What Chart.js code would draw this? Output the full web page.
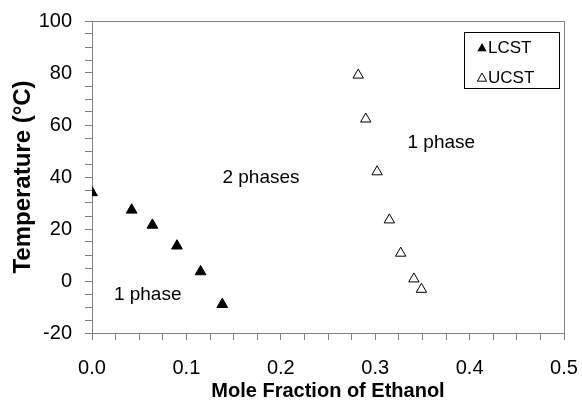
<!DOCTYPE html>
<html lang="en">
<head>
<meta charset="UTF-8">
<title>LCST / UCST vs mole fraction of ethanol</title>
<style>
  body { margin: 0; background: #fff; }
  .wrap { position: relative; width: 582px; height: 405px; }
</style>
</head>
<body>
<div class="wrap"><canvas id="c"></canvas></div>
<script src="https://cdn.jsdelivr.net/npm/chart.js@4.4.1/dist/chart.umd.min.js"></script>
<script>
// LCST points (filled) and UCST points (open)
const lcstX = [0.000, 0.042, 0.064, 0.090, 0.115, 0.138];
const lcstT = [34.0, 27.3, 21.5, 13.5, 3.6, -9.0];
const ucstX = [0.282, 0.290, 0.302, 0.315, 0.327, 0.341, 0.349];
const ucstT = [79.2, 62.3, 42.0, 23.5, 10.7, 0.8, -3.2];

// region labels, placed in data units
const regionText = ['2 phases', '1 phase', '1 phase'];
const regionX = [0.179, 0.059, 0.370];
const regionT = [39.6, -5.4, 53.3];

const seriesNames = ['LCST', 'UCST'];

const FONT = "'Liberation Sans', Arial, sans-serif";
const axisGray = '#808080';
Chart.defaults.font.family = FONT;
Chart.defaults.color = '#000';

// top/right frame, region labels and the boxed legend
const frameAndText = {
  id: 'frameAndText',
  afterDraw(chart) {
    const {ctx, chartArea: a, scales: {x, y}} = chart;
    ctx.save();
    ctx.strokeStyle = axisGray;
    ctx.lineWidth = 1;
    ctx.beginPath();
    ctx.moveTo(Math.round(a.left) + 0.5, Math.round(a.top) + 0.5);
    ctx.lineTo(Math.round(a.right) + 0.5, Math.round(a.top) + 0.5);
    ctx.lineTo(Math.round(a.right) + 0.5, Math.round(a.bottom) + 0.5);
    ctx.stroke();

    ctx.fillStyle = '#000';
    ctx.font = '19px ' + FONT;
    ctx.textAlign = 'center';
    ctx.textBaseline = 'middle';
    regionText.forEach((t, i) => {
      ctx.fillText(t, x.getPixelForValue(regionX[i]), y.getPixelForValue(regionT[i]));
    });

    const bx = a.right - 100, by = a.top + 11, bw = 95, bh = 56;
    ctx.strokeStyle = '#000';
    ctx.strokeRect(Math.round(bx) + 0.5, Math.round(by) + 0.5, bw, bh);
    ctx.font = '17px ' + FONT;
    ctx.textAlign = 'left';
    seriesNames.forEach((name, i) => {
      const cy = by + 16 + i * 30, cx = bx + 18;
      ctx.beginPath();
      ctx.moveTo(cx, cy - 5);
      ctx.lineTo(cx + 4.6, cy + 3.2);
      ctx.lineTo(cx - 4.6, cy + 3.2);
      ctx.closePath();
      if (i === 0) { ctx.fillStyle = '#000'; ctx.fill(); }
      else { ctx.fillStyle = '#fff'; ctx.fill(); ctx.strokeStyle = '#000'; ctx.stroke(); }
      ctx.fillStyle = '#000';
      ctx.fillText(name, cx + 6, cy);
    });
    ctx.restore();
  }
};

const isMajor = (v, step) => Math.abs(v / step - Math.round(v / step)) < 1e-6;

new Chart(document.getElementById('c'), {
  type: 'scatter',
  data: {
    datasets: [
      {
        label: seriesNames[0],
        data: lcstX.map((v, i) => ({x: v, y: lcstT[i]})),
        pointStyle: 'triangle',
        pointRadius: 6.2,
        backgroundColor: '#000',
        borderColor: '#000',
        borderWidth: 1
      },
      {
        label: seriesNames[1],
        data: ucstX.map((v, i) => ({x: v, y: ucstT[i]})),
        pointStyle: 'triangle',
        pointRadius: 6,
        backgroundColor: '#fff',
        borderColor: '#000',
        borderWidth: 1
      }
    ]
  },
  options: {
    responsive: true, maintainAspectRatio: false, animation: false,
    layout: {padding: {top: 21, right: 18, left: 0, bottom: 0}},
    plugins: {legend: {display: false}, tooltip: {enabled: false}},
    scales: {
      x: {
        type: 'linear', min: 0, max: 0.5,
        afterFit: s => { s.height = 72; s.paddingLeft = 0; s.paddingRight = 0; },
        grid: {drawOnChartArea: false, tickLength: 7, color: axisGray},
        border: {color: axisGray},
        ticks: {
          stepSize: 0.025, autoSkip: false, maxRotation: 0, padding: 16,
          font: {size: 20},
          callback: v => isMajor(v, 0.1) ? v.toFixed(1) : ''
        },
        title: {display: true, text: 'Mole Fraction of Ethanol', font: {size: 20, weight: 'bold'}, padding: {top: 0, bottom: 2}}
      },
      y: {
        min: -20, max: 100,
        afterFit: s => { s.width = 92; s.paddingTop = 0; s.paddingBottom = 0; },
        grid: {drawOnChartArea: false, tickLength: 7, color: axisGray},
        border: {color: axisGray},
        ticks: {
          stepSize: 5, autoSkip: false, padding: 13,
          font: {size: 20},
          callback: v => isMajor(v, 20) ? String(v) : ''
        },
        title: {display: true, text: 'Temperature (°C)', font: {size: 24, weight: 'bold'}, padding: {top: 9, bottom: 0}}
      }
    }
  },
  plugins: [frameAndText]
});
</script>
</body>
</html>
